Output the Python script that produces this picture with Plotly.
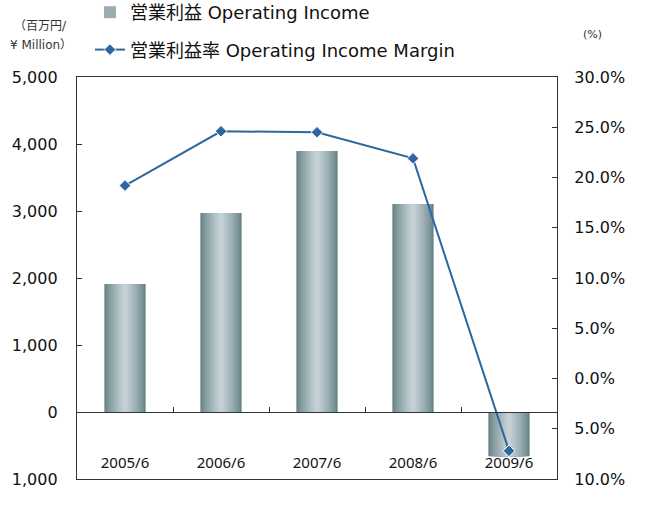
import plotly.graph_objects as go

categories = ["2005/6", "2006/6", "2007/6", "2008/6", "2009/6"]
operating_income = [1910, 2970, 3895, 3105, -660]
income_margin = [19.2, 24.6, 24.5, 21.9, -7.2]

left_tickvals = [5000, 4000, 3000, 2000, 1000, 0, -1000]
left_ticktext = ["5,000", "4,000", "3,000", "2,000", "1,000", "0", "1,000"]
right_tickvals = [30, 25, 20, 15, 10, 5, 0, -5, -10]
right_ticktext = ["30.0%", "25.0%", "20.0%", "15.0%", "10.0%", "5.0%", "0.0%", "5.0%", "10.0%"]

FONT = "DejaVu Sans, Noto Sans CJK JP, sans-serif"
CAT_FONT = "Noto Sans, Noto Sans CJK JP, sans-serif"
AX = "#333333"

fig = go.Figure()

# cylinder-like gradient built from overlaid bars (dark edge -> light center)
edge = (104, 132, 137)
center = (197, 209, 213)
N = 12
full_w = 0.43
for i in range(N):
    t = i / (N - 1)
    col = tuple(round(edge[j] + (center[j] - edge[j]) * (t ** 0.8)) for j in range(3))
    w = full_w * (1 - i / N)
    fig.add_trace(go.Bar(
        x=categories, y=operating_income, width=w,
        marker=dict(color="rgb(%d,%d,%d)" % col, line=dict(width=0)),
        name="営業利益 Operating Income",
        showlegend=(i == 5), legendgroup="bar", hoverinfo="skip",
    ))

fig.add_trace(go.Scatter(
    x=categories, y=income_margin, yaxis="y2",
    mode="lines+markers",
    line=dict(color="#2e679f", width=2),
    marker=dict(symbol="diamond", size=9, color="#2e679f",
                line=dict(color="white", width=1)),
    name="営業利益率 Operating Income Margin",
    legendgroup="line",
))

# helper traces to activate the zero-line axis and the category-label axis
fig.add_trace(go.Scatter(x=categories, y=[None] * len(categories), xaxis="x3",
                         showlegend=False, hoverinfo="skip"))
fig.add_trace(go.Scatter(x=categories, y=[None] * len(categories), xaxis="x4",
                         showlegend=False, hoverinfo="skip"))

fig.update_layout(
    width=663, height=506,
    margin=dict(l=77, r=106, t=77, b=27, autoexpand=False),
    paper_bgcolor="white", plot_bgcolor="white",
    barmode="overlay",
    font=dict(family=FONT, color="#111111"),
    showlegend=True,
    legend=dict(x=0.027, y=1.2065, xanchor="left", yanchor="top",
                orientation="v", traceorder="grouped", tracegroupgap=11,
                font=dict(size=18, family=FONT), bgcolor="rgba(0,0,0,0)"),
    xaxis=dict(type="category", range=[-0.5, 4.5],
               showline=True, linecolor=AX, linewidth=1.3, mirror=True,
               ticks="", showticklabels=False,
               showgrid=False, zeroline=False, automargin=False),
    xaxis3=dict(type="category", range=[-0.5, 4.5], overlaying="x",
                anchor="free", position=1/6, matches="x",
                showline=True, linecolor=AX, linewidth=1.3,
                ticks="inside", ticklen=5, tickcolor=AX, tickson="boundaries",
                showticklabels=False, showgrid=False, zeroline=False),
    xaxis4=dict(type="category", range=[-0.5, 4.5], overlaying="x",
                anchor="free", position=0.066, matches="x",
                showline=False, ticks="", showgrid=False, zeroline=False,
                tickfont=dict(size=15, family=CAT_FONT, color="#111111"),
                automargin=False),
    yaxis=dict(range=[-1000, 5000], tickvals=left_tickvals, ticktext=left_ticktext,
               showline=True, linecolor=AX, linewidth=1.3,
               ticks="inside", ticklen=5, tickcolor=AX,
               tickfont=dict(size=16, family=FONT, color="#111111"),
               ticklabelstandoff=15, automargin=False,
               showgrid=False, zeroline=False),
    yaxis2=dict(range=[-10, 30], overlaying="y", side="right",
                tickvals=right_tickvals, ticktext=right_ticktext,
                showline=True, linecolor=AX, linewidth=1.3,
                ticks="inside", ticklen=5, tickcolor=AX,
                tickfont=dict(size=16, family=FONT, color="#111111"),
                ticklabelstandoff=13, automargin=False,
                showgrid=False, zeroline=False),
)

fig.add_annotation(text="（百万円/", xref="paper", yref="paper",
                   x=-0.077, y=1.127, xanchor="center", yanchor="middle",
                   showarrow=False, font=dict(size=12, family=FONT, color="#333333"))
fig.add_annotation(text="¥ Million）", xref="paper", yref="paper",
                   x=-0.075, y=1.08, xanchor="center", yanchor="middle",
                   showarrow=False, font=dict(size=12, family=FONT, color="#333333"))
fig.add_annotation(text="(%)", xref="paper", yref="paper",
                   x=1.073, y=1.105, xanchor="center", yanchor="middle",
                   showarrow=False, font=dict(size=11, family=FONT, color="#333333"))

fig.write_html("out.html", config={"displayModeBar": False},
               post_script="document.body.style.margin='0';document.body.style.overflow='hidden';")
